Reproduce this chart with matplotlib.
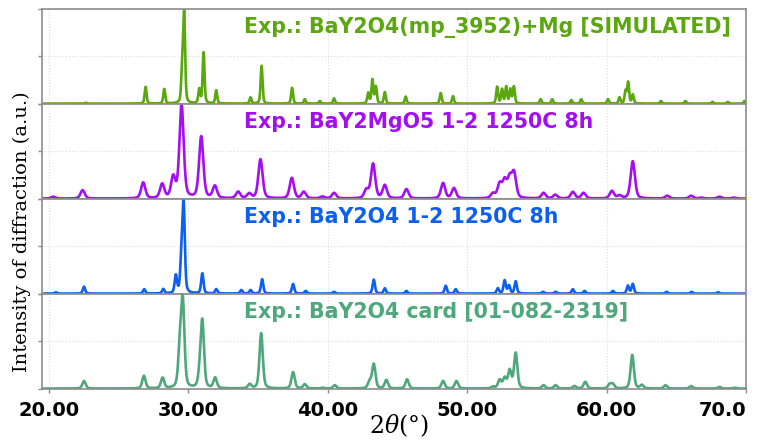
import numpy as np
import matplotlib.pyplot as plt

# peak positions (2theta, deg) and relative heights
sim_pos = [22.65, 26.93, 28.27, 29.56, 29.70, 30.78, 31.09, 32.00, 34.46, 35.25,
           37.44, 38.35, 39.43, 40.45, 42.9, 43.2, 43.45, 44.09, 45.59, 48.10, 48.98,
           52.15, 52.50, 52.80, 53.10, 53.35, 55.27, 56.10, 57.47, 58.18,
           60.10, 60.93, 61.36, 61.55, 61.88, 63.90, 65.66, 67.60, 68.70, 69.90]
sim_int = [0.01, 0.19, 0.165, 0.42, 1.0, 0.16, 0.58, 0.15, 0.07, 0.43,
           0.18, 0.05, 0.03, 0.06, 0.12, 0.27, 0.19, 0.13, 0.08, 0.12, 0.085,
           0.19, 0.16, 0.19, 0.16, 0.19, 0.05, 0.05, 0.04, 0.05,
           0.05, 0.07, 0.14, 0.24, 0.10, 0.03, 0.03, 0.02, 0.02, 0.03]

mgo_pos = [20.30, 22.41, 26.76, 28.12, 28.91, 29.51, 30.92, 31.90, 33.57, 34.36,
           35.17, 37.42, 38.28, 39.62, 40.45, 42.77, 43.25, 44.09, 45.64, 48.27,
           49.05, 51.85, 52.33, 52.69, 53.05, 53.36, 55.48, 56.32, 57.58, 58.35,
           60.38, 60.93, 61.88, 64.35, 66.07, 66.80, 68.10, 69.10]
mgo_int = [0.02, 0.09, 0.17, 0.15, 0.22, 1.0, 0.66, 0.13, 0.07, 0.05,
           0.42, 0.22, 0.07, 0.02, 0.06, 0.09, 0.37, 0.14, 0.10, 0.165,
           0.11, 0.05, 0.15, 0.18, 0.20, 0.26, 0.06, 0.04, 0.07, 0.06,
           0.08, 0.03, 0.40, 0.03, 0.03, 0.01, 0.02, 0.01]

exp_pos = [20.50, 22.51, 26.83, 28.20, 29.10, 29.50, 29.66, 31.00, 32.00, 33.80,
           34.46, 35.29, 37.51, 38.42, 40.45, 43.30, 44.09, 45.64, 48.46, 49.18,
           52.20, 52.69, 53.00, 53.48, 55.44, 56.35, 57.58, 58.42, 60.45, 61.53,
           61.88, 64.3, 66.1, 68.0]
exp_int = [0.015, 0.08, 0.05, 0.05, 0.20, 0.36, 1.0, 0.23, 0.05, 0.04,
           0.04, 0.165, 0.11, 0.03, 0.02, 0.16, 0.06, 0.03, 0.09, 0.05,
           0.06, 0.15, 0.09, 0.14, 0.02, 0.02, 0.05, 0.03, 0.03, 0.09,
           0.11, 0.02, 0.02, 0.015]

card_pos = [22.51, 26.81, 28.15, 29.39, 29.60, 30.82, 31.00, 31.92, 34.40, 35.22,
            37.51, 38.35, 39.64, 40.50, 43.00, 43.30, 44.20, 45.69, 48.27, 49.23,
            51.86, 52.33, 52.69, 53.05, 53.48, 55.48, 56.34, 57.70, 58.47, 60.22,
            60.45, 61.84, 62.53, 64.23, 66.07, 68.10, 69.20]
card_int = [0.09, 0.15, 0.125, 0.45, 1.0, 0.14, 0.78, 0.125, 0.05, 0.66,
            0.195, 0.05, 0.01, 0.04, 0.08, 0.29, 0.10, 0.11, 0.09, 0.09,
            0.02, 0.10, 0.12, 0.21, 0.42, 0.04, 0.04, 0.03, 0.08, 0.05,
            0.05, 0.40, 0.04, 0.04, 0.03, 0.02, 0.01]

labels = ["Exp.: BaY2O4(mp_3952)+Mg [SIMULATED]",
          "Exp.: BaY2MgO5 1-2 1250C 8h",
          "Exp.: BaY2O4 1-2 1250C 8h",
          "Exp.: BaY2O4 card [01-082-2319]"]
colors = ["#5aa70e", "#a40ef2", "#0d5ff0", "#4fa77c"]
fwhm = [0.16, 0.36, 0.2, 0.28]
xtick_labels = ["20.00", "30.00", "40.00", "50.00", "60.00", "70.0"]


def pattern(x, pos, inten, w):
    # pseudo-Voigt peaks summed and scaled to the strongest one
    y = np.zeros_like(x)
    for p, h in zip(pos, inten):
        d = (x - p) / (w / 2)
        y += h * (0.6 * np.exp(-np.log(2) * d ** 2) + 0.4 / (1 + d ** 2))
    return y / y.max()


def main():
    plt.rcParams["mathtext.fontset"] = "dejavuserif"
    x = np.linspace(19.5, 70.0, 5000)
    data = [(sim_pos, sim_int), (mgo_pos, mgo_int), (exp_pos, exp_int), (card_pos, card_int)]

    fig, axes = plt.subplots(4, 1, figsize=(7.64, 4.41), dpi=100, sharex=True)
    fig.subplots_adjust(left=0.055, right=0.9764, bottom=0.118, top=0.9796, hspace=0)

    for ax, (pos, inten), lab, col, w in zip(axes, data, labels, colors, fwhm):
        ax.plot(x, pattern(x, pos, inten, w) * 0.995 + 0.004, color=col, lw=1.9)
        ax.set_xlim(19.5, 70.0)
        ax.set_ylim(0, 1.0)
        ax.set_yticks([0, 0.5, 1.0])
        ax.set_yticklabels([])
        ax.set_xticks(np.arange(20, 71, 10))
        ax.grid(True, color="#dcdcdc", linestyle=":", linewidth=0.8)
        for s in ax.spines.values():
            s.set_color("#8c8c8c")
            s.set_linewidth(1.2)
        ax.tick_params(axis="both", color="#8c8c8c", length=3, width=1)
        ax.text(0.287, 0.81, lab, transform=ax.transAxes, color=col,
                fontsize=14.8, fontweight="bold", va="center", ha="left")

    bottom = axes[-1]
    bottom.set_xticklabels(xtick_labels, fontsize=14, fontweight="bold")
    bottom.tick_params(axis="x", pad=6)
    # last label is cut by the figure edge in the original; keep it inside
    bottom.get_xticklabels()[-1].set_horizontalalignment("right")
    bottom.get_xticklabels()[-1].set_x(70.0)
    for ax in axes[:-1]:
        ax.tick_params(axis="x", length=0)

    fig.text(0.029, 0.474, "Intensity of diffraction (a.u.)", rotation=90,
             family="DejaVu Serif", fontsize=14, va="center", ha="center")
    fig.text(0.522, 0.034, r"$2\theta$(°)", family="DejaVu Serif", fontsize=17,
             va="center", ha="center")

    fig.savefig("out.png", dpi=100)


if __name__ == "__main__":
    main()
